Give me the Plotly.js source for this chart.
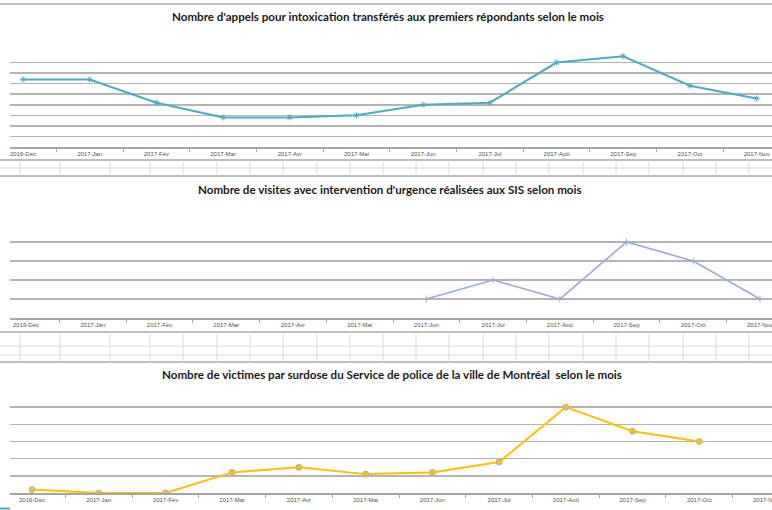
<!DOCTYPE html>
<html>
<head>
<meta charset="utf-8">
<script src="https://cdn.plot.ly/plotly-3.0.1.min.js"></script>
<style>html,body{margin:0;padding:0;background:#fff;}#chart{width:772px;height:510px;}</style>
</head>
<body>
<div id="chart"></div>
<script>
// ---- data ----
var months = ["2016-Déc","2017-Jan","2017-Fév","2017-Mar","2017-Avr","2017-Mai","2017-Jun","2017-Jul","2017-Aoû","2017-Sep","2017-Oct","2017-Nov"];
var appels = [32, 32, 21, 14, 14, 15, 20, 21, 40, 43, 29, 23];
var visites = [null, null, null, null, null, null, 1, 2, 1, 4, 3, 1];
var victimes = [1, 0, 0, 6, 7.5, 5.5, 6, 9, 25, 18, 15, null];
var titles = [
  "Nombre d'appels pour intoxication transférés aux premiers répondants selon le mois",
  "Nombre de visites avec intervention d'urgence réalisées aux SIS selon mois",
  "Nombre de victimes par surdose du Service de police de la ville de Montréal  selon le mois"
];

// ---- layout helpers ----
var W = 772, H = 510;
function py(p){ return 1 - p / H; }
function px(p){ return p / W; }

var traces = [
  {x: months, y: appels, type: "scatter", mode: "lines+markers", xaxis: "x", yaxis: "y",
   line: {color: "#4bacc6", width: 2}, marker: {symbol: "asterisk-open", size: 5, color: "#4bacc6", line: {color: "#4bacc6", width: 1}}},
  {x: months, y: visites, type: "scatter", mode: "lines+markers", xaxis: "x2", yaxis: "y2",
   line: {color: "#98abd8", width: 1.6}, marker: {symbol: "cross-thin-open", size: 5, color: "#98abd8", line: {color: "#98abd8", width: 1}}},
  {x: months, y: victimes, type: "scatter", mode: "lines+markers", xaxis: "x3", yaxis: "y3",
   line: {color: "#ffc000", width: 2}, marker: {symbol: "circle", size: 6, color: "#ffc000", line: {color: "#a8b4c8", width: 1}}}
];

function xa(anchor, r){
  return {anchor: anchor, domain: [px(10), 1], type: "category", range: r,
    showgrid: false, zeroline: false, showline: true, linecolor: "#a6a6a6", linewidth: 1.5,
    ticks: "outside", tickson: "boundaries", ticklen: 3, tickcolor: "#a6a6a6",
    tickfont: {family: "Liberation Sans", size: 6, color: "#505050"}, fixedrange: true};
}
function ya(anchor, top, bot, maxv, dt){
  return {anchor: anchor, domain: [py(bot), py(top)], range: [0, maxv], dtick: dt,
    showgrid: true, gridcolor: "#b4b4b4", gridwidth: 1.5, zeroline: false,
    showticklabels: false, ticks: "", showline: false, fixedrange: true};
}

var shapes = [];
function hline(y, color, w){
  shapes.push({type: "line", xref: "paper", yref: "paper", x0: 0, x1: 1, y0: py(y), y1: py(y), line: {color: color, width: w}});
}
var chartEdges = [4, 160, 176, 332, 362];
var cellRows = [168, 346, 355];
var cellCols = [20, 60, 110, 150, 183, 217, 250, 283, 317, 350, 383, 416, 449, 483, 516, 549, 583, 616, 649, 683, 716, 749];
chartEdges.forEach(function(y){ hline(y, "#a9a9a9", 1.5); });
cellRows.forEach(function(y){ hline(y, "#dadada", 1); });
[[160, 176], [332, 362]].forEach(function(b){
  cellCols.forEach(function(x){
    shapes.push({type: "line", xref: "paper", yref: "paper", x0: px(x), x1: px(x), y0: py(b[0]), y1: py(b[1]), line: {color: "#dadada", width: 1}});
  });
});
shapes.push({type: "line", xref: "paper", yref: "paper", x0: 0, x1: px(10), y0: py(508.5), y1: py(508.5), line: {color: "#4bacc6", width: 2}});

var titleY = [17, 189, 374];
var titleX = [388, 390, 392];
var annotations = titles.map(function(t, i){
  return {text: "<b>" + t + "</b>", xref: "paper", yref: "paper", x: px(titleX[i]), y: py(titleY[i]),
    xanchor: "center", yanchor: "middle", showarrow: false,
    font: {family: "Lato", size: 11.6, color: "#1a1a1a"}};
});

var layout = {
  width: W, height: H, margin: {l: 0, r: 0, t: 0, b: 0},
  paper_bgcolor: "#ffffff", plot_bgcolor: "rgba(0,0,0,0)", showlegend: false,
  xaxis: xa("y", [-0.195, 11.23]),
  xaxis2: xa("y2", [-0.24, 11.18]),
  xaxis3: xa("y3", [-0.33, 11.09]),
  yaxis: ya("x", 52, 147, 45, 5),
  yaxis2: ya("x2", 223, 318, 5, 1),
  yaxis3: ya("x3", 390, 493, 30, 5),
  shapes: shapes, annotations: annotations
};

Plotly.newPlot("chart", traces, layout, {displayModeBar: false, staticPlot: true});
</script>
</body>
</html>
